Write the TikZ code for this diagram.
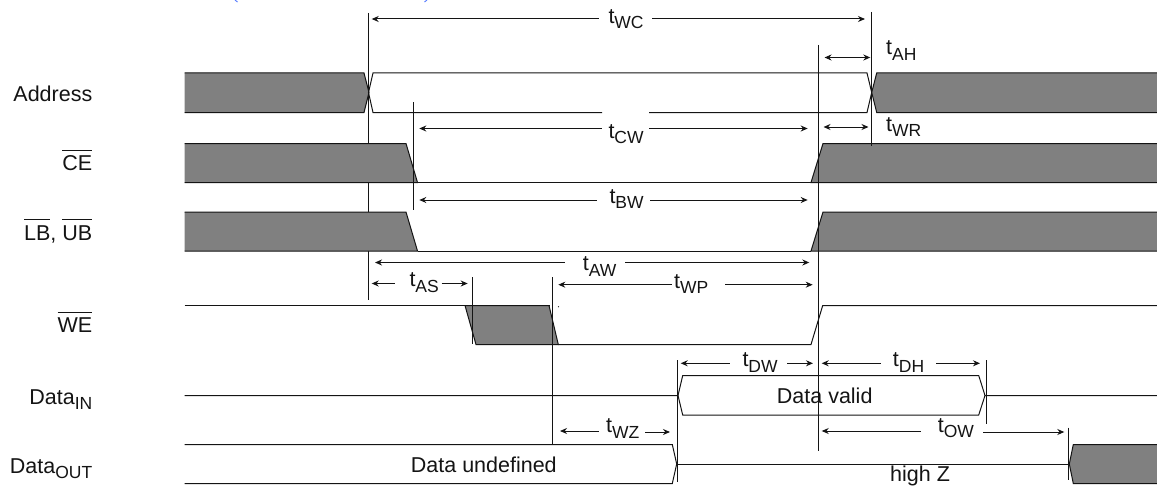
\documentclass[tikz,border=0pt]{standalone}
\usepackage{fontspec}
\setmainfont{Liberation Sans}
\usetikzlibrary{arrows.meta}
\definecolor{wavegray}{HTML}{808080}
\definecolor{inkline}{HTML}{141414}
\definecolor{linkblue}{HTML}{5B7FFF}
\newcommand\mainsize{\fontsize{21.5}{26}\selectfont}
\newcommand\subtxt[1]{\raisebox{-5.5pt}{\fontsize{17.5}{20}\selectfont #1}}
\newcommand\timing[1]{t\subtxt{#1}}
\newcommand\ovl[1]{\leavevmode\setbox0=\hbox{#1}\rlap{\rule[20pt]{\wd0}{1pt}}\box0}
\tikzset{
  wave/.style={draw=inkline,line width=1pt,line join=miter},
  graywave/.style={wave,fill=wavegray},
  marker/.style={draw=inkline,line width=1pt},
  dimline/.style={draw=inkline,line width=1pt},
  dimleft/.style={dimline,{Stealth[length=7pt,width=6pt]}-},
  dimright/.style={dimline,-{Stealth[length=7pt,width=6pt]}},
  dimboth/.style={dimline,{Stealth[length=7pt,width=6pt]}-{Stealth[length=7pt,width=6pt]}},
  lbl/.style={inner sep=0pt,anchor=base west,font=\mainsize,text=inkline},
  sig/.style={inner sep=0pt,anchor=base east,font=\mainsize,text=inkline},
}
\begin{document}
\begin{tikzpicture}[x=1pt,y=-1pt]
\useasboundingbox (0,0) rectangle (1157,487);
% faint cropped blue marks at the top edge
\draw[linkblue,line width=1pt] (235,0) -- (237.5,2);
\draw[linkblue,line width=1pt] (424.5,2) -- (427,0);

% long vertical reference behind the waveforms
\coordinate (v1a) at (368.5,13); \coordinate (v1b) at (368.5,300);
\draw[marker] (v1a) -- (v1b);

% Address
\draw[graywave] (184.5,73) -- (364,73) -- (369,92.5) -- (364,112.5) -- (184.5,112.5);
\draw[wave] (602,112.5) -- (373,112.5) -- (368.5,92.5) -- (373,73) -- (867,73) -- (871.7,92.5) -- (867,112.5) -- (649,112.5);
\draw[graywave] (1157,73) -- (876.7,73) -- (871.7,92.5) -- (876.7,112.5) -- (1157,112.5);
% CE
\draw[graywave] (184.5,143.5) -- (406,143.5) -- (417.5,182.5) -- (184.5,182.5);
\draw[wave] (417.5,182.5) -- (811,182.5);
\draw[graywave] (1157,143.5) -- (823,143.5) -- (811,182.5) -- (1157,182.5);
% LB UB
\draw[graywave] (184.5,212) -- (406,212) -- (417.5,251) -- (184.5,251);
\draw[wave] (417.5,251) -- (811,251);
\draw[graywave] (1157,212) -- (823,212) -- (811,251) -- (1157,251);
% WE
\draw[graywave] (465,305.5) -- (476,344.5) -- (558.3,344.5) -- (549,305.5) -- cycle;
\draw[wave] (184.5,305.5) -- (465,305.5);
\draw[wave] (465,305.5) -- (550,305.5);
\draw[wave] (558.3,344.5) -- (811,344.5) -- (822.7,305.5) -- (1157,305.5);
\fill[inkline] (558.5,306.7) circle (0.6);
% Data in
\draw[wave] (184.5,395.5) -- (678,395.5) -- (682.7,375.5) -- (978.7,375.5) -- (985,395.5) -- (1157,395.5);
\draw[wave] (678,395.5) -- (682.7,415) -- (978.7,415) -- (985,395.5);
% Data out
\draw[wave] (184.5,444.5) -- (672.3,444.5) -- (676.7,464) -- (672.3,483.5) -- (184.5,483.5);
\draw[wave] (676.7,464) -- (1069.3,464);
\draw[graywave] (1157,444.5) -- (1073.3,444.5) -- (1069.3,464) -- (1073.3,483.5) -- (1157,483.5);

% vertical reference lines
\coordinate (v2a) at (413.5,102);  \coordinate (v2b) at (413.5,209.5);
\coordinate (v3a) at (818.2,45);   \coordinate (v3b) at (818.2,450.7);
\coordinate (v4a) at (871.7,12);   \coordinate (v4b) at (871.7,146);
\coordinate (v5a) at (472.7,277);  \coordinate (v5b) at (472.7,344);
\coordinate (v6a) at (552,277);    \coordinate (v6b) at (552,445);
\coordinate (v7a) at (677.8,360);  \coordinate (v7b) at (677.8,482);
\coordinate (v8a) at (986,360);    \coordinate (v8b) at (986,424);
\coordinate (v9a) at (1068,427.5); \coordinate (v9b) at (1068,480);
\foreach \n in {2,...,9} \draw[marker] (v\n a) -- (v\n b);

% signal names
\node[sig] (sAddr) at (92.5,101) {Address};
\node[sig] (sCE) at (92.5,170.7) {\ovl{CE}};
\node[sig] (sLB) at (92.5,240) {\ovl{LB}, \ovl{UB}};
\node[sig] (sWE) at (92.5,332.7) {\ovl{WE}};
\node[sig] (sIn) at (92.5,404) {Data\subtxt{IN}};
\node[sig] (sOut) at (92.5,473.3) {Data\subtxt{OUT}};

% waveform texts
\node[lbl] (tUndef) at (410.7,472.7) {Data undefined};
\node[lbl] (tValid) at (776.7,403.3) {Data valid};
\node[lbl] (tZ) at (890,481.7) {high Z};

% timing labels
\node[lbl] (tWC) at (608.3,23.5) {\timing{WC}};
\node[lbl] (tAH) at (886,55) {\timing{AH}};
\node[lbl] (tCW) at (608.3,138.5) {\timing{CW}};
\node[lbl] (tWR) at (886,131) {\timing{WR}};
\node[lbl] (tBW) at (609.3,203) {\timing{BW}};
\node[lbl] (tAW) at (582.7,270.7) {\timing{AW}};
\node[lbl] (tWP) at (674,288) {\timing{WP}};
\node[lbl] (tAS) at (409.3,286.7) {\timing{AS}};
\node[lbl] (tDW) at (742.3,366.7) {\timing{DW}};
\node[lbl] (tDH) at (892.7,366.7) {\timing{DH}};
\node[lbl] (tWZ) at (606,432.7) {\timing{WZ}};
\node[lbl] (tOW) at (937.7,432.3) {\timing{OW}};

% dimension arrows: end coordinate and gap coordinate for each
\coordinate (aWC1) at (371.7,19);  \coordinate (gWC1) at (599,19);
\coordinate (gWC2) at (652,19);    \coordinate (aWC2) at (865,19);
\draw[dimleft] (aWC1) -- (gWC1); \draw[dimright] (gWC2) -- (aWC2);

\coordinate (aAH1) at (824.5,57.5); \coordinate (aAH2) at (870.3,57.5);
\draw[dimboth] (aAH1) -- (aAH2);
\coordinate (aWR1) at (823.5,127); \coordinate (aWR2) at (868.5,127);
\draw[dimboth] (aWR1) -- (aWR2);

\coordinate (aCW1) at (419.3,128.5); \coordinate (gCW1) at (602,128.5);
\coordinate (gCW2) at (649,128.5);   \coordinate (aCW2) at (807.7,128.5);
\draw[dimleft] (aCW1) -- (gCW1); \draw[dimright] (gCW2) -- (aCW2);

\coordinate (aBW1) at (419.3,200); \coordinate (gBW1) at (597,200);
\coordinate (gBW2) at (650,200);   \coordinate (aBW2) at (807.7,200);
\draw[dimleft] (aBW1) -- (gBW1); \draw[dimright] (gBW2) -- (aBW2);

\coordinate (aAW1) at (375,262.5); \coordinate (gAW1) at (565,262.5);
\coordinate (gAW2) at (625,262.5); \coordinate (aAW2) at (809.3,262.5);
\draw[dimleft] (aAW1) -- (gAW1); \draw[dimright] (gAW2) -- (aAW2);

\coordinate (aWP1) at (558.3,284.7); \coordinate (gWP1) at (671.7,284.7);
\coordinate (gWP2) at (725,284.7);   \coordinate (aWP2) at (812.7,284.7);
\draw[dimleft] (aWP1) -- (gWP1); \draw[dimright] (gWP2) -- (aWP2);

\coordinate (aAS1) at (371.7,283.5); \coordinate (gAS1) at (395,283.5);
\coordinate (gAS2) at (441.7,283.5); \coordinate (aAS2) at (467.7,283.5);
\draw[dimleft] (aAS1) -- (gAS1); \draw[dimright] (gAS2) -- (aAS2);

\coordinate (aDW1) at (680.7,363.3); \coordinate (gDW1) at (730,363.3);
\coordinate (gDW2) at (787,363.3);   \coordinate (aDW2) at (813,363.3);
\draw[dimleft] (aDW1) -- (gDW1); \draw[dimright] (gDW2) -- (aDW2);

\coordinate (aDH1) at (821.7,363.3); \coordinate (gDH1) at (881,363.3);
\coordinate (gDH2) at (936,363.3);   \coordinate (aDH2) at (980,363.3);
\draw[dimleft] (aDH1) -- (gDH1); \draw[dimright] (gDH2) -- (aDH2);

\coordinate (aWZ1) at (560,431); \coordinate (gWZ1) at (599,431);
\coordinate (gWZ2) at (645,432); \coordinate (aWZ2) at (670,432);
\draw[dimleft] (aWZ1) -- (gWZ1); \draw[dimright] (gWZ2) -- (aWZ2);

\coordinate (aOW1) at (821.7,431); \coordinate (gOW1) at (921,431);
\coordinate (gOW2) at (983,432);   \coordinate (aOW2) at (1064.3,432);
\draw[dimleft] (aOW1) -- (gOW1); \draw[dimright] (gOW2) -- (aOW2);
\end{tikzpicture}
\end{document}
